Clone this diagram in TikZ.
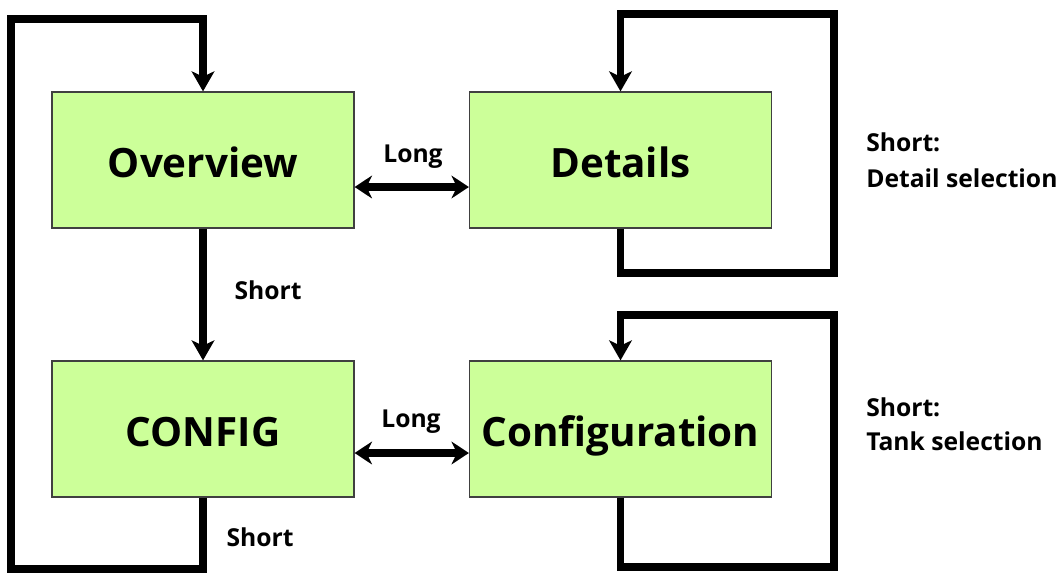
\documentclass[tikz,border=0pt]{standalone}
\usepackage{fontspec}
\setmainfont{Open Sans}
\usetikzlibrary{arrows.meta}
\definecolor{boxgreen}{HTML}{CCFF99}
\definecolor{boxline}{HTML}{404040}
\tikzset{
  box/.style={draw=boxline, line width=0.9pt, fill=boxgreen, minimum width=226.5pt, minimum height=102pt, inner sep=0pt, text height=26pt, text depth=0pt, font=\bfseries\fontsize{30.3}{36}\selectfont},
  conn/.style={line width=5.5pt, line join=miter, -{Stealth[length=15pt, width=17pt, inset=4pt]}},
  both/.style={line width=5.5pt, {Stealth[length=13pt, width=17pt, inset=4pt]}-{Stealth[length=13pt, width=17pt, inset=4pt]}},
  lbl/.style={font=\bfseries\fontsize{18.5}{27}\selectfont, inner sep=0pt},
}
\begin{document}
\begin{tikzpicture}[x=0.75pt, y=-0.75pt]
\useasboundingbox (0,0) rectangle (1060,572);
\node[box] (ov) at (203,160) {Overview};
\node[box] (dt) at (620.5,160) {Details};
\node[box] (cf) at (203,429) {CONFIG};
\node[box] (cg) at (620.5,429) {Configuration};
\coordinate (l1) at (11,569);
\coordinate (l2) at (11,19);
\coordinate (r1) at (834,273);
\coordinate (r2) at (834,14);
\coordinate (r3) at (834,567);
\coordinate (r4) at (834,315);
\draw[conn] (cf.south) -- (cf.south |- l1) -- (l1) -- (l2) -- (ov.north |- l2) -- (ov.north);
\draw[conn] (dt.south) -- (dt.south |- r1) -- (r1) -- (r2) -- (dt.north |- r2) -- (dt.north);
\draw[conn] (cg.south) -- (cg.south |- r3) -- (r3) -- (r4) -- (cg.north |- r4) -- (cg.north);
\draw[conn] (ov.south) -- (cf.north);
\draw[both] ([yshift=-20.25pt]ov.east) -- ([yshift=-20.25pt]dt.west);
\draw[both] ([yshift=-18pt]cf.east) -- ([yshift=-18pt]cg.west);
\node[lbl] (lg1) at (413,157) {Long};
\node[lbl] (lg2) at (411,422) {Long};
\node[lbl] (sh1) at (268,290) {Short};
\node[lbl] (sh2) at (260,537) {Short};
\node[lbl, anchor=west, align=left] (sd) at (866,160) {Short:\\Detail selection};
\node[lbl, anchor=west, align=left] (st) at (866,424) {Short:\\[-1.5pt]Tank selection};
\end{tikzpicture}
\end{document}
